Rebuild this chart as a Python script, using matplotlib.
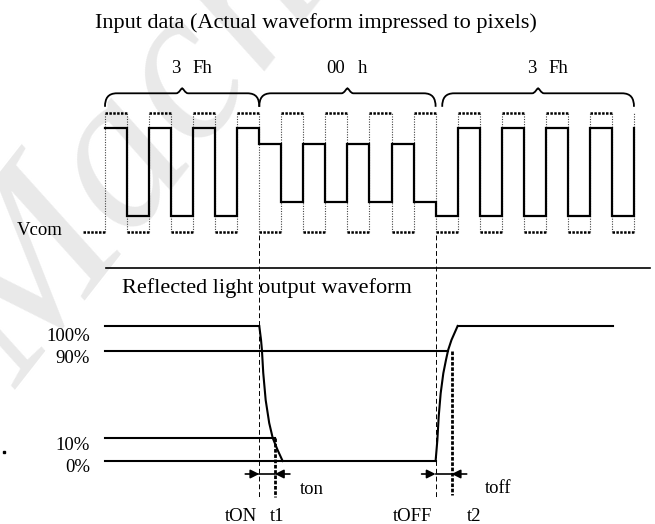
import numpy as np
import matplotlib
matplotlib.use("Agg")
import matplotlib.pyplot as plt
from matplotlib.path import Path
from matplotlib.patches import PathPatch

# ---------------- data ----------------
title = "Input data (Actual waveform impressed to pixels)"
out_title = "Reflected light output waveform"
section_names = [("3", "Fh"), ("00", "h"), ("3", "Fh")]
section_bounds = [(0, 7), (7, 15), (15.3, 24)]          # in slot units

# drive level per slot (Vcom = 0, reference pulse top = 1)
solid_levels = [0.874, 0.134, 0.874, 0.134, 0.874, 0.134, 0.874,
                0.74, 0.252, 0.74, 0.252, 0.74, 0.252, 0.74, 0.252,
                0.134, 0.874, 0.134, 0.874, 0.134, 0.874, 0.134, 0.874, 0.134]
solid_final = 0.874
ref_levels = [1, 0] * 12                                  # dotted reference wave

level_labels = ["100%", "90%", "10%", "0%"]
level_values = [100, 90, 10, 0]

fall_t = [7.0, 7.08, 7.12, 7.18, 7.29, 7.45, 7.61, 7.83, 8.06]
fall_p = [100, 94.4, 90.4, 69.8, 44.9, 23.8, 10, 4.8, 0]
rise_t = [15.0, 15.08, 15.14, 15.23, 15.35, 15.47, 15.57, 15.72, 16.0]
rise_p = [0, 9.1, 29.6, 51.1, 69.5, 81.7, 90.4, 94.4, 100]

t_on, t_1, t_off, t_2 = 7.0, 7.71, 15.0, 15.73
t90_cross = 15.56
out_end = 23.05

# ---------------- scales (pixel layout) ----------------
X0, SLOT = 105.0, 22.04
def X(t):
    return X0 + SLOT * np.asarray(t, dtype=float)
def YV(v):
    return 232.0 - 119.0 * np.asarray(v, dtype=float)
def YP(p):
    return np.interp(p, [0, 10, 90, 100], [461, 438, 351, 326])

SERIF = ["Liberation Serif", "DejaVu Serif"]

fig = plt.figure(figsize=(6.55, 5.24), dpi=100)
ax = fig.add_axes([0, 0, 1, 1])
ax.set_xlim(0, 655)
ax.set_ylim(524, 0)
ax.axis("off")

# watermark
ax.text(18, 390, "Mach", rotation=52, rotation_mode="anchor", fontsize=160,
        color="#e9e9e9", family=SERIF, style="italic", ha="left",
        va="baseline", zorder=0)

# ---------------- top: input waveform ----------------
n = len(solid_levels)
edges = np.arange(n + 1)
sx = np.repeat(edges, 2)[1:-1]
sy = np.repeat(solid_levels, 2)
sx = np.append(sx, n)
sy = np.append(sy, solid_final)
ax.plot(X(sx), YV(sy), color="black", lw=1.6, solid_joinstyle="miter", zorder=3)

for i, lv in enumerate(ref_levels):
    ax.plot(X([i, i + 1]), YV([lv, lv]), color="black", lw=1.8,
            linestyle=(0, (1, 0.55)), zorder=2)
ax.plot([83, X(0)], YV([0, 0]), color="black", lw=1.8,
        linestyle=(0, (1, 0.55)), zorder=2)
for e in edges:
    ax.plot(X([e, e]), YV([0, 1]), color="#444444", lw=0.8,
            linestyle=(0, (1, 1.3)), zorder=2)

ax.text(17, 235, "Vcom", fontsize=13.5, family=SERIF, ha="left", va="baseline")

def brace(x0, x1, y0=93.3):
    xm = 0.5 * (x0 + x1)
    verts = [(x0, y0 + 13.5), (x0, y0 + 5), (x0 + 3, y0), (x0 + 12, y0),
             (xm - 6, y0),
             (xm - 3, y0), (xm - 1, y0 - 5), (xm, y0 - 5),
             (xm + 1, y0 - 5), (xm + 3, y0), (xm + 6, y0),
             (x1 - 12, y0),
             (x1 - 3, y0), (x1, y0 + 5), (x1, y0 + 13.5)]
    codes = [Path.MOVETO, Path.CURVE4, Path.CURVE4, Path.CURVE4,
             Path.LINETO,
             Path.CURVE4, Path.CURVE4, Path.CURVE4,
             Path.CURVE4, Path.CURVE4, Path.CURVE4,
             Path.LINETO,
             Path.CURVE4, Path.CURVE4, Path.CURVE4]
    ax.add_patch(PathPatch(Path(verts, codes), fill=False, lw=1.3,
                           edgecolor="black"))

for (a, b), (n1, n2) in zip(section_bounds, section_names):
    x0, x1 = X(a), X(b)
    brace(x0, x1)
    xm = 0.5 * (x0 + x1) + 4
    ax.text(xm - 6, 73, n1, fontsize=13.5, family=SERIF, ha="right", va="baseline")
    ax.text(xm + 6, 73, n2, fontsize=13.5, family=SERIF, ha="left", va="baseline")

ax.text(537, 28, title, fontsize=16, family=SERIF, ha="right", va="baseline")

ax.plot([106, 650], [268, 268], color="black", lw=1.2)

# ---------------- bottom: optical response ----------------
ax.text(122, 293, out_title, fontsize=16, family=SERIF, ha="left", va="baseline")

LW = 1.5
ax.plot(X([0, t_on]), YP([100, 100]), color="black", lw=LW)
ax.plot(X([rise_t[-1], out_end]), YP([100, 100]), color="black", lw=LW)
ax.plot(X([0, t90_cross]), YP([90, 90]), color="black", lw=LW)
ax.plot(X([0, t_1]), YP([10, 10]), color="black", lw=LW)
ax.plot(X([0, t_off]), YP([0, 0]), color="black", lw=LW)
ax.plot(X(fall_t), YP(fall_p), color="black", lw=LW)
ax.plot(X(rise_t), YP(rise_p), color="black", lw=LW)

label_baseline_offset = [15, 12, 12, 11]
for lab, val, off in zip(level_labels, level_values, label_baseline_offset):
    ax.text(90, float(YP(val)) + off, lab, fontsize=13.5, family=SERIF,
            ha="right", va="baseline")

for t in (t_on, t_off):
    ax.plot(X([t, t]), [235, 497], color="black", lw=0.7,
            linestyle=(0, (5, 3)), zorder=1)
ax.plot(X([t_1, t_1]), [float(YP(10)), 497], color="black", lw=2.0,
        linestyle=(0, (1.3, 0.6)))
ax.plot(X([t_2, t_2]), [float(YP(90)), 495], color="black", lw=2.0,
        linestyle=(0, (1.3, 0.6)))

ya = 474
def arrow(xfrom, xto):
    ax.annotate("", xy=(xto, ya), xytext=(xfrom, ya),
                arrowprops=dict(arrowstyle="-|>", color="black", lw=1.2,
                                mutation_scale=13, shrinkA=0, shrinkB=0))
for a, b in ((t_on, t_1), (t_off, t_2)):
    xa, xb = float(X(a)), float(X(b))
    arrow(xa - 14, xa)
    arrow(xb + 15, xb)
    ax.plot([xa, xb], [ya, ya], color="black", lw=1.2)

ax.text(300, 494, "ton", fontsize=13.5, family=SERIF, ha="left", va="baseline")
ax.text(485, 493, "toff", fontsize=13.5, family=SERIF, ha="left", va="baseline")
ax.text(257, 521, "tON", fontsize=13.5, family=SERIF, ha="right", va="baseline")
ax.text(270, 521, "t1", fontsize=13.5, family=SERIF, ha="left", va="baseline")
ax.text(432, 521, "tOFF", fontsize=13.5, family=SERIF, ha="right", va="baseline")
ax.text(467, 521, "t2", fontsize=13.5, family=SERIF, ha="left", va="baseline")

ax.plot([4], [452], marker="s", ms=2, color="black")

fig.savefig("out.png", dpi=100)
